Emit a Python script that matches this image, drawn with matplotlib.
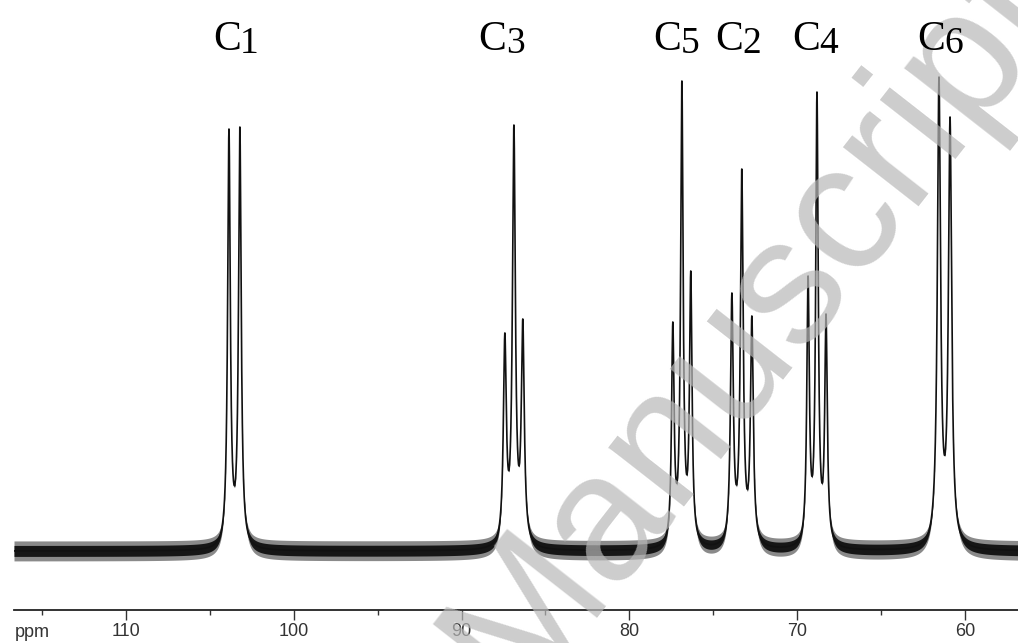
import numpy as np
import matplotlib
matplotlib.use('Agg')
import matplotlib.pyplot as plt
from matplotlib.transforms import blended_transform_factory, offset_copy

# ---- data ----
peak_ppm = [103.86, 103.21,
            87.42, 86.88, 86.35,
            77.41, 76.87, 76.34,
            73.89, 73.30, 72.70,
            69.35, 68.82, 68.28,
            61.55, 60.89]
peak_height = [422, 424,
               218, 426, 232,
               229, 470, 280,
               258, 382, 235,
               275, 459, 237,
               474, 434]
peak_hwhm = [0.095, 0.095,
             0.105, 0.105, 0.105,
             0.09, 0.09, 0.09,
             0.10, 0.10, 0.10,
             0.09, 0.09, 0.09,
             0.115, 0.115]
baseline_level = 59
noise_amp = 10

label_digits = ['1', '3', '5', '2', '4', '6']
label_ppm = [104.82, 88.98, 78.55, 74.86, 70.27, 62.82]

major_ticks = [110, 100, 90, 80, 70, 60]
minor_ticks = [115, 105, 95, 85, 75, 65]
x_left, x_right = 116.67, 56.84

# ---- build spectrum from peak list ----
P = np.array(peak_ppm)
H = np.array(peak_height, dtype=float)
G = np.array(peak_hwhm)


def lor(x, c, g):
    return 1.0 / (1.0 + ((x - c) / g) ** 2)


M = lor(P[:, None], P[None, :], G[None, :])
A = np.linalg.solve(M, H)
ppm = np.linspace(x_left, x_right, 30000)
spec = baseline_level + (A[None, :] * lor(ppm[:, None], P[None, :], G[None, :])).sum(axis=1)

W, Hh = 1018, 643
fig = plt.figure(figsize=(W / 100, Hh / 100), dpi=100)
ax = fig.add_axes([14 / W, (Hh - 610) / Hh, 1 - 14 / W, 610 / Hh])
ax.set_xlim(x_left, x_right)
ax.set_ylim(0, 610)

k = np.exp(-np.clip(spec - baseline_level, 0, None) / 40.0)
ax.fill_between(ppm, spec - noise_amp * k, spec + noise_amp * k, color='#8a8a8a', lw=0)
ax.fill_between(ppm, spec - 0.55 * noise_amp * k, spec + 0.55 * noise_amp * k, color='#161616', lw=0)
ax.plot(ppm, spec, color='#111111', lw=1.2)

for s in ['top', 'left', 'right']:
    ax.spines[s].set_visible(False)
ax.spines['bottom'].set_linewidth(1.3)
ax.spines['bottom'].set_color('#222222')
ax.set_yticks([])
ax.set_xticks(major_ticks)
ax.set_xticklabels([str(t) for t in major_ticks], family='Liberation Sans', fontsize=13, color='#333333')
ax.set_xticks(minor_ticks, minor=True)
ax.tick_params(axis='x', which='major', direction='out', length=7.2, width=1.0, pad=2, color='#333333')
ax.tick_params(axis='x', which='minor', direction='out', length=3.6, width=1.0, color='#333333')

fig.text(15 / W, 1 - 637 / Hh, 'ppm', family='Liberation Sans', fontsize=13, color='#333333',
         ha='left', va='baseline')

# watermark
fig.text(752 / W, 1 - 325 / Hh, 'Manuscript', rotation=52, fontsize=130, color='#b8b8b8',
         alpha=0.7, ha='center', va='center', fontweight='normal', family='Liberation Sans', zorder=4)

# carbon labels
trans = blended_transform_factory(ax.transData, fig.transFigure)
ybase = 1 - 50 / Hh
for d, xp in zip(label_digits, label_ppm):
    fig.text(xp, ybase, 'C', transform=trans, family='Liberation Serif', fontsize=30,
             ha='left', va='baseline', color='black', zorder=6)
    t2 = offset_copy(trans, fig=fig, x=19.5, y=-2.2, units='points')
    fig.text(xp, ybase, d, transform=t2, family='Liberation Serif', fontsize=27,
             ha='left', va='baseline', color='black', zorder=6)

fig.savefig('out.png', dpi=100)
